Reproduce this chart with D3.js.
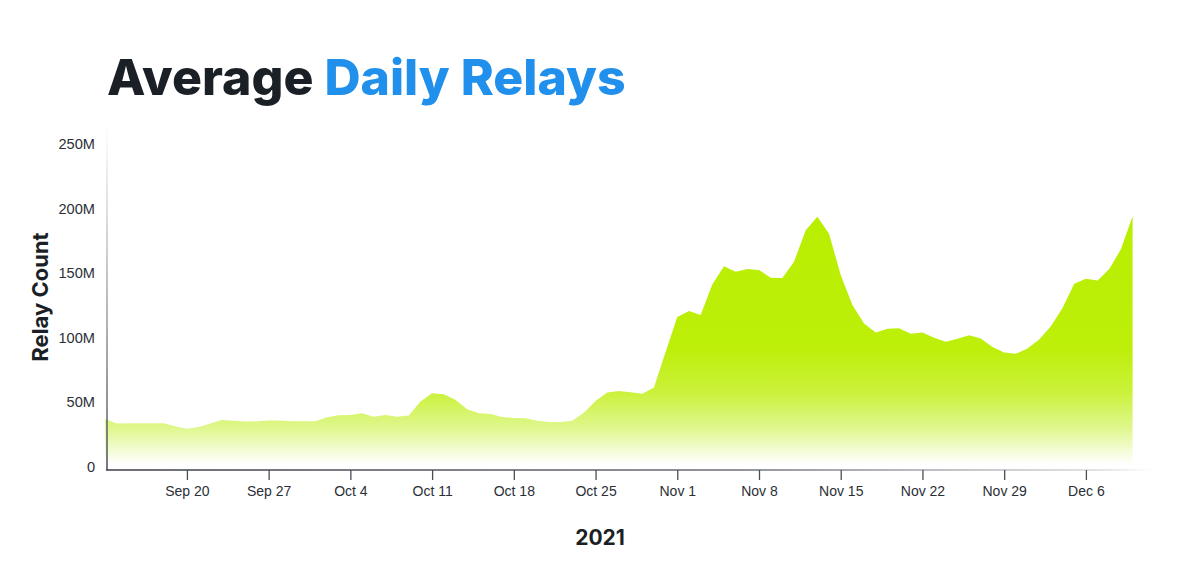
<!DOCTYPE html>
<html><head><meta charset="utf-8">
<script src="https://cdn.jsdelivr.net/npm/d3@7"></script>
<style>body{margin:0;background:#fff}svg{display:block}</style>
</head><body>
<svg id="chart" width="1200" height="586"></svg>
<script>
// ---- data ----
const titleDark = "Average ";
const titleBlue = "Daily Relays";
const yAxisTitle = "Relay Count";
const xAxisTitle = "2021";
const firstDay = "2021-09-13";
// average daily relays, millions, one value per day from Sep 13 to Dec 10 2021
const relaysMillions = [
  38.0, 34.4, 34.6, 34.7, 34.7, 34.6, 32.4, 30.5, 31.7, 34.5,
  37.2, 36.7, 36.0, 36.2, 36.9, 36.8, 36.3, 36.2, 36.2, 39.3,
  40.9, 41.1, 42.5, 39.8, 41.1, 39.7, 40.7, 51.5, 57.9, 57.1,
  53.0, 45.5, 42.5, 41.8, 39.5, 38.8, 38.5, 36.6, 35.7, 35.7,
  36.7, 42.9, 51.9, 58.6, 59.7, 58.8, 57.5, 62.4, 90.0, 117.0,
  121.8, 118.6, 142.2, 156.3, 152.2, 154.3, 153.5, 147.4, 147.2, 159.8,
  184.3, 194.8, 181.6, 149.6, 126.3, 112.0, 105.0, 107.9, 108.4, 104.1,
  105.0, 101.0, 97.8, 100.2, 102.9, 100.3, 93.8, 89.5, 88.6, 92.6,
  99.7, 109.8, 124.0, 142.9, 146.7, 145.3, 154.3, 169.5, 195.1
];
const yTickValues = [0, 50e6, 100e6, 150e6, 200e6, 250e6];
const yTickLabels = ["0", "50M", "100M", "150M", "200M", "250M"];
const xTickDates = ["2021-09-20","2021-09-27","2021-10-04","2021-10-11","2021-10-18","2021-10-25",
                    "2021-11-01","2021-11-08","2021-11-15","2021-11-22","2021-11-29","2021-12-06"];
const xTickLabels = ["Sep 20","Sep 27","Oct 4","Oct 11","Oct 18","Oct 25",
                     "Nov 1","Nov 8","Nov 15","Nov 22","Nov 29","Dec 6"];

// ---- build ----
const parse = d3.utcParse("%Y-%m-%d");
const start = parse(firstDay);
const data = relaysMillions.map((v, i) => ({ date: d3.utcDay.offset(start, i), value: v * 1e6 }));

const svg = d3.select("#chart");
const x = d3.scaleUtc()
  .domain([start, data[data.length - 1].date])
  .range([105.2, 1132.6]);
const y = d3.scaleLinear().domain([0, 250e6]).range([468, 145.5]);

const defs = svg.append("defs");
const ag = defs.append("linearGradient").attr("id", "areaGrad")
  .attr("gradientUnits", "userSpaceOnUse").attr("x1", 0).attr("x2", 0).attr("y1", 210).attr("y2", 464);
ag.append("stop").attr("offset", 0).attr("stop-color", "#b9ee00");
ag.append("stop").attr("offset", 0.55).attr("stop-color", "#bdef0a");
ag.append("stop").attr("offset", 0.72).attr("stop-color", "#cbf23c");
ag.append("stop").attr("offset", 0.86).attr("stop-color", "#dff78f");
ag.append("stop").attr("offset", 1).attr("stop-color", "#ffffff");

const xl = defs.append("linearGradient").attr("id", "xLineGrad")
  .attr("gradientUnits", "userSpaceOnUse").attr("x1", 107).attr("x2", 1152).attr("y1", 0).attr("y2", 0);
xl.append("stop").attr("offset", 0).attr("stop-color", "#3a3f47");
xl.append("stop").attr("offset", 0.6).attr("stop-color", "#6b7078");
xl.append("stop").attr("offset", 0.95).attr("stop-color", "#d8dadd");
xl.append("stop").attr("offset", 1).attr("stop-color", "#ffffff");

const yl = defs.append("linearGradient").attr("id", "yLineGrad")
  .attr("gradientUnits", "userSpaceOnUse").attr("x1", 0).attr("x2", 0).attr("y1", 124).attr("y2", 470);
yl.append("stop").attr("offset", 0).attr("stop-color", "#ffffff");
yl.append("stop").attr("offset", 0.3).attr("stop-color", "#c4c7cb");
yl.append("stop").attr("offset", 1).attr("stop-color", "#3a3f47");

// area
const area = d3.area().x(d => x(d.date)).y0(y(0)).y1(d => y(d.value));
svg.append("path").datum(data).attr("d", area).attr("fill", "url(#areaGrad)");

// axes lines
svg.append("line").attr("x1", 107).attr("x2", 107).attr("y1", 124).attr("y2", 470.5)
  .attr("stroke", "url(#yLineGrad)").attr("stroke-width", 1.4);
svg.append("line").attr("x1", 106.3).attr("x2", 1152).attr("y1", 470).attr("y2", 470)
  .attr("stroke", "url(#xLineGrad)").attr("stroke-width", 1.4);

// x axis ticks
const xAxis = d3.axisBottom(x)
  .tickValues(xTickDates.map(parse))
  .tickFormat((d, i) => xTickLabels[i])
  .tickSize(10).tickPadding(6);
const gx = svg.append("g").attr("transform", "translate(0,470)").call(xAxis);
gx.select(".domain").remove();
gx.selectAll(".tick line").attr("stroke", "#4a4f57").attr("stroke-width", 1.3);
gx.selectAll(".tick text").attr("fill", "#2b2f36")
  .style("font-family", "'Liberation Sans', Arial, sans-serif").style("font-size", "14px");

// y axis labels
const yAxis = d3.axisLeft(y).tickValues(yTickValues)
  .tickFormat((d, i) => yTickLabels[i]).tickSize(0).tickPadding(12);
const gy = svg.append("g").attr("transform", "translate(107,-1.5)").call(yAxis);
gy.select(".domain").remove();
gy.selectAll(".tick text").attr("fill", "#2b2f36")
  .style("font-family", "'Liberation Sans', Arial, sans-serif").style("font-size", "14.6px");

// title
const t = svg.append("text").attr("x", 107).attr("y", 95)
  .style("font-family", "Inter, 'Noto Sans', sans-serif").style("font-weight", 800).style("font-size", "50px");
t.append("tspan").attr("fill", "#1b1f26").text(titleDark);
t.append("tspan").attr("fill", "#2190ec").text(titleBlue);

// axis titles
svg.append("text").attr("transform", "translate(48,297) rotate(-90)")
  .attr("text-anchor", "middle").attr("fill", "#1b1f26")
  .style("font-family", "Inter, 'Noto Sans', sans-serif").style("font-weight", 700).style("font-size", "22px")
  .text(yAxisTitle);
svg.append("text").attr("x", 600).attr("y", 545).attr("text-anchor", "middle").attr("fill", "#1b1f26")
  .style("font-family", "Inter, 'Noto Sans', sans-serif").style("font-weight", 700).style("font-size", "21px")
  .text(xAxisTitle);
</script>
</body></html>
